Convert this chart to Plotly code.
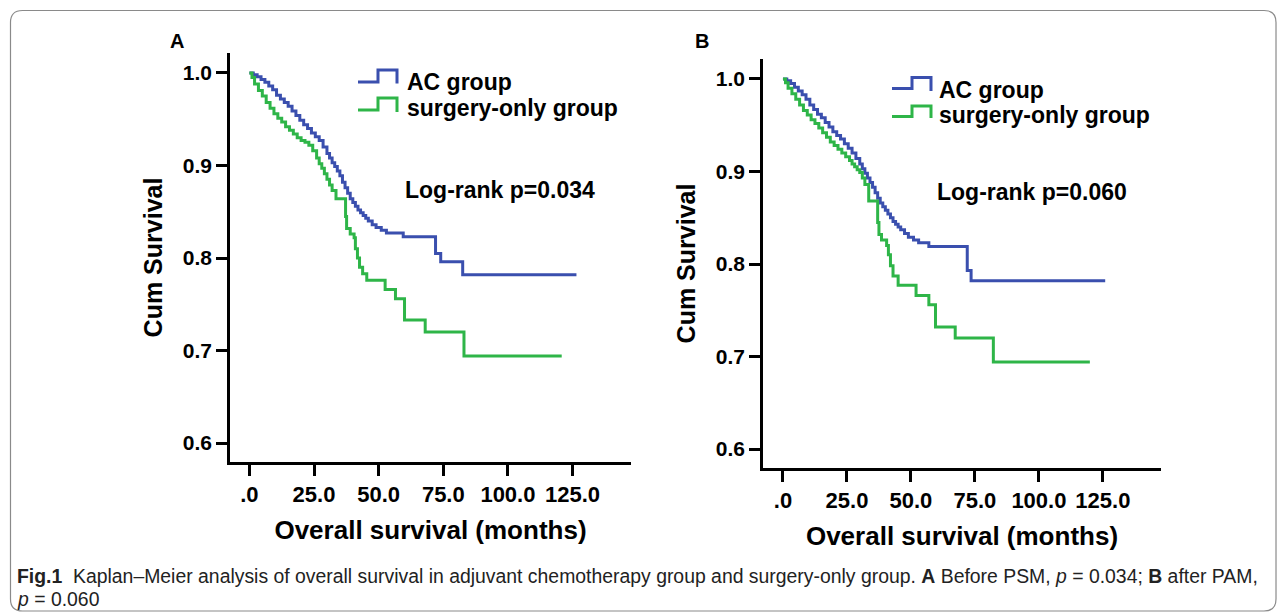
import plotly.graph_objects as go

W, H = 1285, 613

# ---------------- data ----------------
x_tick_vals = [0, 25, 50, 75, 100, 125]
x_tick_text = [".0", "25.0", "50.0", "75.0", "100.0", "125.0"]
y_tick_vals = [0.6, 0.7, 0.8, 0.9, 1.0]
y_tick_text = ["0.6", "0.7", "0.8", "0.9", "1.0"]

series_names = ["AC group", "surgery-only group"]
logrank_A = "Log-rank p=0.034"
logrank_B = "Log-rank p=0.060"

# Panel A (before PSM)
ac_A_months = [0, 1.5, 3, 4.5, 6, 7.5, 9, 10.5, 12, 13.5, 15, 16.5, 18, 19.5, 21, 22.5, 24, 25.5,
               27, 28.5, 30, 31, 32, 33, 34, 35, 36, 37, 38, 39, 40, 41, 42, 43, 44, 45, 46,
               47.5, 49, 51, 53, 59.5, 72, 74, 82.5, 126.5]
ac_A_surv = [1.0, 0.998, 0.996, 0.993, 0.99, 0.986, 0.982, 0.976, 0.972, 0.968, 0.964, 0.959,
             0.954, 0.949, 0.944, 0.940, 0.935, 0.931, 0.927, 0.920, 0.913, 0.908, 0.903, 0.899,
             0.894, 0.889, 0.882, 0.876, 0.870, 0.864, 0.860, 0.856, 0.852, 0.849, 0.846, 0.843,
             0.840, 0.836, 0.833, 0.830, 0.827, 0.823, 0.805, 0.796, 0.782, 0.782]

so_A_months = [0, 1, 2, 3.5, 5, 6.5, 8, 9.5, 11, 12.5, 14, 15.5, 17, 18.5, 20, 21.5, 23, 24.5,
               26, 27, 28, 29, 30, 31, 32, 33.5, 37.2, 37.6, 39, 40.5, 41, 41.8, 42.6, 43.8,
               45.4, 52.5, 56.5, 60, 68, 83, 120.8]
so_A_surv = [1.0, 0.995, 0.988, 0.981, 0.975, 0.968, 0.962, 0.956, 0.951, 0.947, 0.942, 0.938,
             0.934, 0.930, 0.927, 0.925, 0.922, 0.916, 0.908, 0.902, 0.897, 0.891, 0.885, 0.879,
             0.873, 0.864, 0.845, 0.832, 0.826, 0.822, 0.810, 0.800, 0.790, 0.783, 0.776, 0.766,
             0.756, 0.733, 0.720, 0.694, 0.694]

# Panel B (after matching)
ac_B_months = [0, 1.5, 3, 4.5, 6, 7.5, 9, 10.5, 12, 13.5, 15, 16.5, 18, 19.5, 21, 22.5, 24, 25.5,
               27, 28.5, 30, 31, 32, 33, 34, 35, 36, 37, 38, 39, 40, 41, 42, 43, 44, 45, 46,
               47.5, 49, 51, 53, 57, 72, 73.5, 125.9]
ac_B_surv = [1.0, 0.998, 0.995, 0.991, 0.987, 0.983, 0.978, 0.972, 0.967, 0.962, 0.958, 0.953,
             0.948, 0.943, 0.939, 0.935, 0.930, 0.925, 0.920, 0.914, 0.908, 0.903, 0.898, 0.893,
             0.888, 0.883, 0.877, 0.871, 0.866, 0.862, 0.858, 0.854, 0.850, 0.846, 0.843, 0.840,
             0.837, 0.833, 0.829, 0.826, 0.823, 0.819, 0.793, 0.782, 0.782]

so_B_months = [0, 1, 2, 3.5, 5, 6.5, 8, 9.5, 11, 12.5, 14, 15.5, 17, 18.5, 20, 21.5, 23, 24.5,
               26, 27, 28, 29, 30, 31, 32, 33.5, 37, 37.5, 38.5, 40.5, 41.2, 42, 43, 45, 52,
               57, 59.6, 67.3, 82.2, 119.9]
so_B_surv = [1.0, 0.996, 0.990, 0.984, 0.978, 0.972, 0.966, 0.961, 0.956, 0.952, 0.947, 0.942,
             0.937, 0.932, 0.928, 0.924, 0.920, 0.916, 0.912, 0.908, 0.905, 0.902, 0.899, 0.893,
             0.886, 0.868, 0.845, 0.832, 0.826, 0.820, 0.810, 0.798, 0.787, 0.777, 0.766,
             0.756, 0.732, 0.720, 0.694, 0.694]

caption_1 = ("<b>Fig.1</b>  Kaplan–Meier analysis of overall survival in adjuvant chemotherapy group "
             "and surgery-only group. <b>A</b> Before PSM, <i>p</i> = 0.034; <b>B</b> after PAM,")
caption_2 = "<i>p</i> = 0.060"

# ---------------- styling ----------------
BLUE = "#3a4fae"
GREEN = "#2eb548"
FONT = "Liberation Sans, Arial, sans-serif"


def px(x):
    return x / W


def py(y):
    return 1 - y / H


def P(x, y):
    return f"{px(x):.5f},{py(y):.5f}"


fig = go.Figure()

panels = [
    dict(xa="x", ya="y", ac=(ac_A_months, ac_A_surv), so=(so_A_months, so_A_surv)),
    dict(xa="x2", ya="y2", ac=(ac_B_months, ac_B_surv), so=(so_B_months, so_B_surv)),
]
for pn in panels:
    fig.add_trace(go.Scatter(x=pn["ac"][0], y=pn["ac"][1], mode="lines", line_shape="hv",
                             line=dict(color=BLUE, width=3), name=series_names[0],
                             xaxis=pn["xa"], yaxis=pn["ya"], showlegend=False))
    fig.add_trace(go.Scatter(x=pn["so"][0], y=pn["so"][1], mode="lines", line_shape="hv",
                             line=dict(color=GREEN, width=3), name=series_names[1],
                             xaxis=pn["xa"], yaxis=pn["ya"], showlegend=False))

xtickfont = dict(family=FONT, size=22, color="black", weight="bold")
ytickfont = dict(family=FONT, size=21, color="black", weight="bold")
titlefont = dict(family=FONT, size=26, color="black", weight="bold")
common_x = dict(showline=True, linecolor="black", linewidth=2.5, ticks="outside", ticklen=11,
                tickwidth=2.5, tickcolor="black", showgrid=False, zeroline=False,
                tickvals=x_tick_vals, ticktext=x_tick_text, tickfont=xtickfont,
                title=dict(text="Overall survival (months)", font=titlefont, standoff=15))
common_y = dict(showline=True, linecolor="black", linewidth=2.5, ticks="outside", ticklen=11,
                tickwidth=2.5, tickcolor="black", showgrid=False, zeroline=False,
                tickvals=y_tick_vals, ticktext=y_tick_text, tickfont=ytickfont,
                title=dict(text="Cum Survival", font=dict(family=FONT, size=25, color="black",
                                                           weight="bold"), standoff=14))

fig.update_layout(
    width=W, height=H, margin=dict(l=0, r=0, t=0, b=0),
    paper_bgcolor="white", plot_bgcolor="white", showlegend=False,
    xaxis=dict(domain=[px(230), px(631)], range=[-7.5, 147.6], anchor="y", **common_x),
    yaxis=dict(domain=[py(462), py(53)], range=[0.5795, 1.0216], anchor="x", **common_y),
    xaxis2=dict(domain=[px(763), px(1161)], range=[-7.8, 147.7], anchor="y2", **common_x),
    yaxis2=dict(domain=[py(468), py(59)], range=[0.5795, 1.0216], anchor="x2", **common_y),
)

# ---------------- legends (step icons + text) ----------------
leg = [
    # (icon left, step x, icon right, low y, high y, end y, text x, text y, color, label)
    (358, 378, 397, 82, 70, 83.5, 405, 82, BLUE, series_names[0]),
    (358, 378, 397, 110, 98, 112, 405, 108, GREEN, series_names[1]),
    (892, 912, 931, 88.5, 77.5, 91, 937, 89.5, BLUE, series_names[0]),
    (892, 912, 931, 116.5, 106, 118, 937, 114.5, GREEN, series_names[1]),
]
for x0, xs, x1, ylo, yhi, yend, tx, ty, col, lab in leg:
    fig.add_shape(type="path", xref="paper", yref="paper",
                  path=f"M {P(x0, ylo)} L {P(xs, ylo)} L {P(xs, yhi)} L {P(x1, yhi)} L {P(x1, yend)}",
                  line=dict(color=col, width=3))
    fig.add_annotation(xref="paper", yref="paper", x=px(tx), y=py(ty), text=lab, showarrow=False,
                       xanchor="left", yanchor="middle",
                       font=dict(family=FONT, size=23, color="black", weight="bold"))

# Log-rank texts
fig.add_annotation(xref="paper", yref="paper", x=px(403), y=py(190), text=logrank_A,
                   showarrow=False, xanchor="left", yanchor="middle",
                   font=dict(family=FONT, size=23, color="black", weight="bold"))
fig.add_annotation(xref="paper", yref="paper", x=px(935), y=py(192), text=logrank_B,
                   showarrow=False, xanchor="left", yanchor="middle",
                   font=dict(family=FONT, size=23, color="black", weight="bold"))

# Panel letters
for lx, lt in [(177, "A"), (702, "B")]:
    fig.add_annotation(xref="paper", yref="paper", x=px(lx), y=py(41), text=lt, showarrow=False,
                       xanchor="center", yanchor="middle",
                       font=dict(family=FONT, size=20, color="black", weight="bold"))

# Caption
fig.add_annotation(xref="paper", yref="paper", x=px(15), y=py(576), text=caption_1, showarrow=False,
                   xanchor="left", yanchor="middle", font=dict(family=FONT, size=19.4, color="#222"))
fig.add_annotation(xref="paper", yref="paper", x=px(15), y=py(599), text=caption_2, showarrow=False,
                   xanchor="left", yanchor="middle", font=dict(family=FONT, size=19.4, color="#222"))

# Rounded frame
r = 12
L, T, R, B = 10.5, 10.5, 1276, 611
fig.add_shape(type="path", xref="paper", yref="paper", layer="below",
              path=(f"M {P(L + r, T)} L {P(R - r, T)} Q {P(R, T)} {P(R, T + r)} "
                    f"L {P(R, B - r)} Q {P(R, B)} {P(R - r, B)} L {P(L + r, B)} "
                    f"Q {P(L, B)} {P(L, B - r)} L {P(L, T + r)} Q {P(L, T)} {P(L + r, T)} Z"),
              line=dict(color="#8a8a8a", width=1.2))

fig.write_html("out.html")
